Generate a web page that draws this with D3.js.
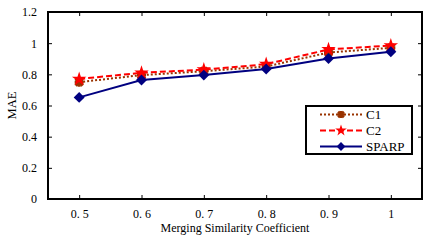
<!DOCTYPE html>
<html>
<head>
<meta charset="utf-8">
<script src="https://cdn.jsdelivr.net/npm/d3@7"></script>
<style>
body { margin: 0; background: #fff; }
</style>
</head>
<body>
<div id="chart"></div>
<script>
var xValues = [0.5, 0.6, 0.7, 0.8, 0.9, 1.0];
var xTickLabels = ["0. 5", "0. 6", "0. 7", "0. 8", "0. 9", "1"];
var yTicks = [0, 0.2, 0.4, 0.6, 0.8, 1, 1.2];
var c1 = [0.75, 0.795, 0.82, 0.85, 0.94, 0.97];
var c2 = [0.77, 0.81, 0.83, 0.865, 0.96, 0.985];
var sparp = [0.652, 0.763, 0.795, 0.834, 0.902, 0.945];

var font = "'Liberation Serif', 'Times New Roman', 'DejaVu Serif', serif";

var width = 435, height = 243,
    margin = {top: 12, right: 13, bottom: 44, left: 48};

var svg = d3.select("#chart").append("svg")
    .attr("width", width)
    .attr("height", height)
    .attr("font-family", font);

var w = width - margin.left - margin.right,
    h = height - margin.top - margin.bottom;

var g = svg.append("g").attr("transform", "translate(" + margin.left + "," + margin.top + ")");

var x = d3.scaleLinear().domain([0.45, 1.05]).range([0, w]);
var y = d3.scaleLinear().domain([0, 1.2]).range([h, 0]);

// inward ticks on all four sides
var fmtX = function(d, i) { return xTickLabels[i]; };
g.append("g").attr("class", "axis")
    .attr("transform", "translate(0," + h + ")")
    .call(d3.axisBottom(x).tickValues(xValues).tickSizeInner(-4).tickSizeOuter(0).tickPadding(10).tickFormat(fmtX));
g.append("g").attr("class", "axis")
    .call(d3.axisTop(x).tickValues(xValues).tickSizeInner(-4).tickSizeOuter(0).tickFormat(""));
g.append("g").attr("class", "axis")
    .call(d3.axisLeft(y).tickValues(yTicks).tickSizeInner(-4).tickSizeOuter(0).tickPadding(11).tickFormat(d3.format("")));
g.append("g").attr("class", "axis")
    .attr("transform", "translate(" + w + ",0)")
    .call(d3.axisRight(y).tickValues(yTicks).tickSizeInner(-4).tickSizeOuter(0).tickFormat(""));

g.selectAll(".axis").attr("font-family", font);
g.selectAll(".axis .domain").remove();
g.selectAll(".axis line").attr("stroke", "#000").attr("stroke-width", 1);
g.selectAll(".axis text").attr("font-size", 12).attr("fill", "#000");

g.append("rect")
    .attr("width", w).attr("height", h)
    .attr("fill", "none").attr("stroke", "#000").attr("stroke-width", 2);

var styles = [
    {name: "C1", data: c1, color: "#993300", dash: "2,2", marker: "c1"},
    {name: "C2", data: c2, color: "#ff0000", dash: "6,3", marker: "star"},
    {name: "SPARP", data: sparp, color: "#000080", dash: null, marker: "diamond"}
];

var line = d3.line()
    .x(function(d, i) { return x(xValues[i]); })
    .y(function(d) { return y(d); });

function marker(sel, s) {
    if (s.marker === "diamond") {
        sel.append("path").attr("d", d3.symbol(d3.symbolSquare, 60)())
            .attr("fill", s.color)
            .attr("transform", "rotate(45)");
    } else if (s.marker === "star") {
        sel.append("path").attr("d", d3.symbol(d3.symbolStar, 65)())
            .attr("fill", s.color);
    } else {
        sel.append("path").attr("d", d3.symbol(d3.symbolCross, 55)())
            .attr("fill", s.color).attr("transform", "rotate(45)");
        sel.append("path").attr("d", d3.symbol(d3.symbolCross, 45)())
            .attr("fill", s.color);
    }
}

styles.forEach(function(s) {
    g.append("path")
        .datum(s.data)
        .attr("fill", "none")
        .attr("stroke", s.color)
        .attr("stroke-width", 2)
        .attr("stroke-dasharray", s.dash)
        .attr("d", line);
    g.selectAll(null)
        .data(s.data)
        .enter().append("g")
        .attr("transform", function(d, i) { return "translate(" + x(xValues[i]) + "," + y(d) + ")"; })
        .each(function() { marker(d3.select(this), s); });
});

// axis titles
svg.append("text")
    .attr("x", margin.left + x(0.75))
    .attr("y", 232)
    .attr("text-anchor", "middle")
    .attr("font-size", 12)
    .text("Merging Similarity Coefficient");
svg.append("text")
    .attr("transform", "translate(16," + (margin.top + h / 2) + ") rotate(-90)")
    .attr("text-anchor", "middle")
    .attr("font-size", 12.5)
    .text("MAE");

// legend
var lg = svg.append("g").attr("transform", "translate(306,106)");
lg.append("rect").attr("width", 106).attr("height", 48)
    .attr("fill", "#fff").attr("stroke", "#000").attr("stroke-width", 2);
var item = lg.selectAll("g.item")
    .data(styles)
    .enter().append("g").attr("class", "item")
    .attr("transform", function(d, i) { return "translate(0," + (8.5 + i * 16) + ")"; });
item.append("line")
    .attr("x1", 14).attr("x2", 56)
    .attr("stroke", function(d) { return d.color; })
    .attr("stroke-width", 2)
    .attr("stroke-dasharray", function(d) { return d.dash; });
item.append("g").attr("transform", "translate(35,0) scale(0.8)")
    .each(function(d) { marker(d3.select(this), d); });
item.append("text")
    .attr("x", 60).attr("dy", "0.35em")
    .attr("font-size", 13)
    .text(function(d) { return d.name; });
</script>
</body>
</html>
